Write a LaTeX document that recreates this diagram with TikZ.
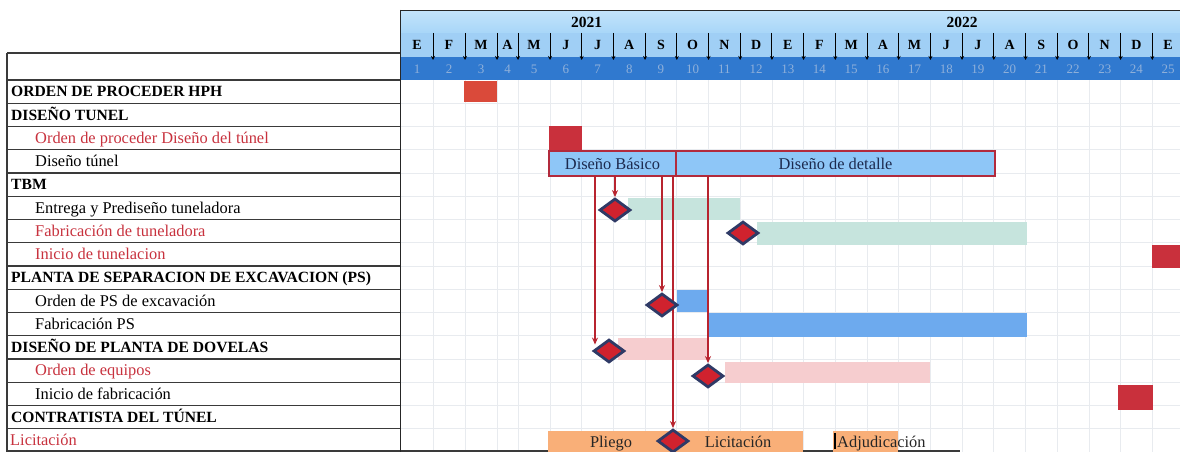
\documentclass[tikz,border=0pt]{standalone}
\usepackage{fontspec}
\setmainfont{Liberation Serif}
\usetikzlibrary{shapes.geometric,arrows.meta,calc,fit}
\pgfdeclarelayer{front}
\pgfsetlayers{main,front}
\definecolor{hdrA}{HTML}{C2E3FB}
\definecolor{hdrA2}{HTML}{A8D6F8}
\definecolor{hdrB}{HTML}{A0CFF5}
\definecolor{hdrN}{HTML}{3079CF}
\definecolor{numtxt}{HTML}{8FB0DA}
\definecolor{gridc}{HTML}{E8EBEF}
\definecolor{tabc}{HTML}{3A3A3A}
\definecolor{redtxt}{HTML}{C8323E}
\definecolor{blkred}{HTML}{C9303C}
\definecolor{hphred}{HTML}{DA4A3A}
\definecolor{deslb}{HTML}{8EC6F7}
\definecolor{desbd}{HTML}{B22A3C}
\definecolor{tealb}{HTML}{C6E4DD}
\definecolor{pinkb}{HTML}{F6CDCF}
\definecolor{blueb}{HTML}{6DAAEE}
\definecolor{orng}{HTML}{F9AF78}
\definecolor{dianavy}{HTML}{2F3A66}
\definecolor{diared}{HTML}{D0222E}
\definecolor{depred}{HTML}{B8242F}
\definecolor{bartxt}{HTML}{1C2A4E}
\begin{document}
\begin{tikzpicture}[x=1pt,y=-1pt,
  gridl/.style={draw=gridc, line width=0.8pt},
  tabl/.style={draw=tabc, line width=1.4pt},
  framel/.style={draw=black!85, line width=1.6pt},
  sepl/.style={draw=black, line width=1pt, -{Stealth[length=4pt,width=4pt]}},
  yr/.style={font=\fontsize{15.5}{18}\selectfont\bfseries, inner sep=0pt},
  mon/.style={font=\fontsize{14}{16}\selectfont\bfseries, inner sep=0pt},
  num/.style={font=\fontsize{13}{15}\selectfont, text=numtxt, inner sep=0pt},
  hd/.style={font=\fontsize{15.6}{18}\selectfont\bfseries, anchor=base west, inner sep=0pt},
  sub/.style={font=\fontsize{16.4}{18}\selectfont, anchor=base west, inner sep=0pt},
  btx/.style={font=\fontsize{16.4}{18}\selectfont, anchor=base, inner sep=0pt},
  blk/.style={inner sep=0pt, outer sep=0pt, draw=none},
  desb/.style={blk, draw=desbd, line width=2pt, fill=deslb},
  ms/.style={diamond, draw=dianavy, line width=2.8pt, fill=diared, minimum width=31pt, minimum height=23pt, inner sep=0pt},
  dep/.style={draw=depred, line width=2pt, -{Stealth[length=7pt,width=6pt]}}]
\useasboundingbox (0,0) rectangle (1180,452);
\clip (0,0) rectangle (1180,452);
\fill[white] (0,0) rectangle (1180,452);
% header
\fill[top color=hdrA,bottom color=hdrA2] (401,11) rectangle (1180,33);
\fill[hdrB] (401,33) rectangle (1180,57);
\fill[hdrN] (401,57) rectangle (1180,80);
\node[yr] (y2021) at (586.5,22.5) {2021};
\node[yr] (y2022) at (962,22.5) {2022};
\foreach \m/\a/\b [count=\i] in {E/401/433, F/433/465, M/465/497, A/497/518, M/518/550, J/550/581.7, J/581.7/613.4, A/613.4/645.1, S/645.1/676.8, O/676.8/708.5, N/708.5/740.2, D/740.2/771.9, E/771.9/803.6, F/803.6/835.3, M/835.3/867, A/867/898.7, M/898.7/930.4, J/930.4/962.1, J/962.1/993.8, A/993.8/1025.5, S/1025.5/1057.2, O/1057.2/1088.9, N/1088.9/1120.6, D/1120.6/1152.3, E/1152.3/1184}{
  \node[mon] (m\i) at ({(\a+\b)/2},45) {\m};
  \node[num] (n\i) at ({(\a+\b)/2},69) {\i};
}
\foreach \x in {433,465,497,518,550,581.7,613.4,645.1,676.8,708.5,740.2,771.9,803.6,835.3,867,898.7,930.4,962.1,993.8,1025.5,1057.2,1088.9,1120.6,1152.3}{
  \draw[sepl] (\x,33) -- (\x,60);
  \draw[gridl] (\x,80) -- (\x,452);
}
\foreach \k in {1,...,15} \draw[gridl] (401,{80+\k*23.25}) -- (1180,{80+\k*23.25});
% left table
\draw[tabl] (7,53) -- (400,53);
\foreach \k in {0,...,15} \draw[tabl] (7,{80+\k*23.25}) -- (400,{80+\k*23.25});
\draw[tabl] (7,451) -- (960,451);
\draw[tabl] (7,53) -- (7,452);
\draw[framel] (400.5,10) -- (400.5,452);
\draw[framel] (400,10.5) -- (1180,10.5);
% labels
\foreach \r/\t in {1/ORDEN DE PROCEDER HPH, 2/DISEÑO TUNEL, 5/TBM, 9/PLANTA DE SEPARACION DE EXCAVACION (PS), 12/DISEÑO DE PLANTA DE DOVELAS, 15/CONTRATISTA DEL TÚNEL}
  \node[hd] (lab\r) at (11,{80+(\r-0.5)*23.25+5.3}) {\t};
\foreach \r/\t in {4/Diseño túnel, 6/Entrega y Prediseño tuneladora, 10/Orden de PS de excavación, 11/Fabricación PS, 14/Inicio de fabricación}
  \node[sub] (lab\r) at (35,{80+(\r-0.5)*23.25+5.3}) {\t};
\foreach \r/\t in {3/Orden de proceder Diseño del túnel, 7/Fabricación de tuneladora, 8/Inicio de tunelacion, 13/Orden de equipos}
  \node[sub, text=redtxt] (lab\r) at (35,{80+(\r-0.5)*23.25+5.3}) {\t};
\node[sub, text=redtxt] (lab16) at (10,{80+15.5*23.25+5.3}) {Licitación};
% bars
\node[blk, fill=hphred, fit={(464,81) (497,102)}] (hph) {};
\node[blk, fill=blkred, fit={(549,126) (582,150)}] (odt) {};
\node[desb, fit={(549,151) (676,176)}] (basico) {};
\node[desb, fit={(676,151) (995,176)}] (detalle) {};
\node[btx, text=bartxt] (tbas) at (612.5,169) {Diseño Básico};
\node[btx, text=bartxt] (tdet) at (835.5,169) {Diseño de detalle};
\node[blk, fill=tealb, fit={(628,198) (740,220)}] (teal1) {};
\node[blk, fill=tealb, fit={(757,222) (1027,245)}] (teal2) {};
\node[blk, fill=blkred, fit={(1152,245) (1184,268)}] (itun) {};
\node[blk, fill=blueb, fit={(677,290) (708,312)}] (ps1) {};
\node[blk, fill=blueb, fit={(708,313) (1027,337)}] (ps2) {};
\node[blk, fill=pinkb, fit={(618,338) (707,360)}] (pk1) {};
\node[blk, fill=pinkb, fit={(725,362) (930,383)}] (pk2) {};
\node[blk, fill=blkred, fit={(1118,385) (1153,410)}] (ifab) {};
\node[blk, fill=orng, fit={(548,431) (673,453)}] (pliego) {};
\node[blk, fill=orng, fit={(673,431) (803,453)}] (licit) {};
\node[blk, fill=orng, fit={(833,431) (898,453)}] (adj) {};
\node[btx, text=black!85] (tpli) at (611,447) {Pliego};
\node[btx, text=black!85] (tlic) at (738,447) {Licitación};
\draw[line width=2.2pt, black] ([xshift=2pt,yshift=-2pt]adj.north west) -- ([xshift=2pt,yshift=4pt]adj.south west);
\node[sub, text=black!85] (adjt) at (837,447) {Adjudicación};
% diamonds (front layer)
\begin{pgfonlayer}{front}
\node[ms] (dE) at (615,210) {};
\node[ms] (dF) at (743,233) {};
\node[ms] (dB) at (662,305) {};
\node[ms] (dA) at (609,351) {};
\node[ms] (dD) at (708,376) {};
\node[ms] (dC) at (673,441) {};
\end{pgfonlayer}
% dependencies
\coordinate (sA) at (595,176);
\draw[dep] (sA) -- (sA |- dA.north west);
\draw[dep] (dB.north |- basico.south) -- (dB.north);
\draw[dep] (dC.north |- basico.south) -- (dC.north);
\draw[dep] (dD.north |- detalle.south) -- (dD.north);
\draw[dep] (dE.north |- basico.south) -- (dE.north);
\end{tikzpicture}
\end{document}
